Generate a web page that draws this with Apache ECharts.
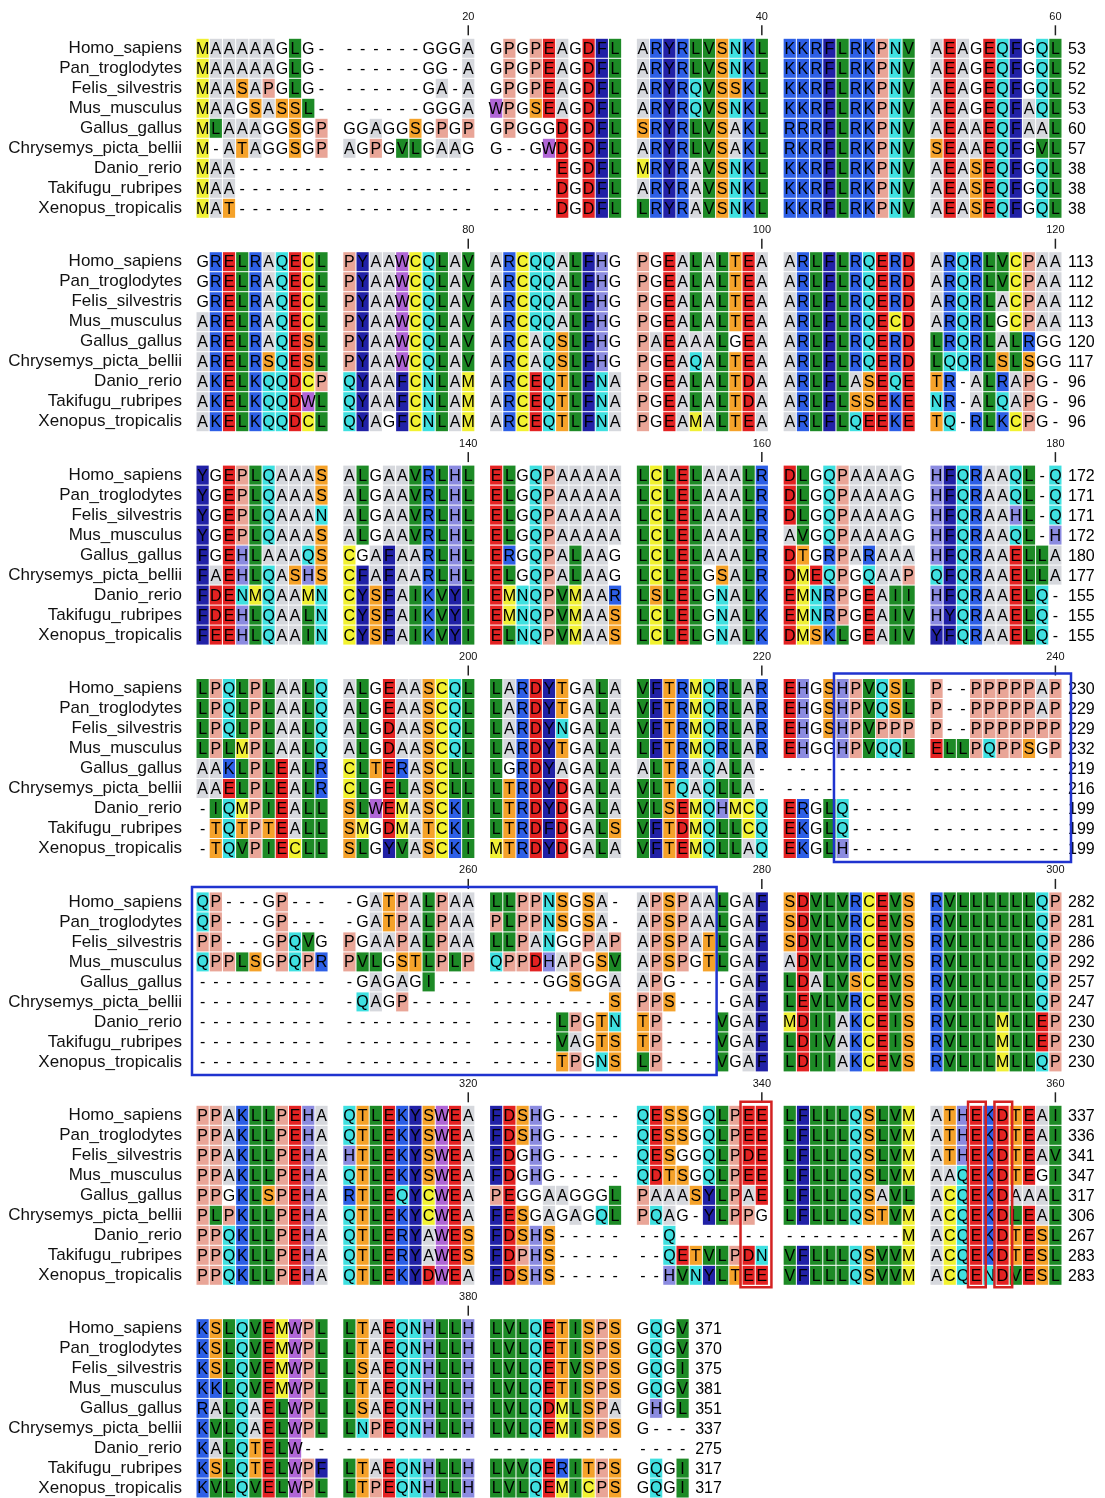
<!DOCTYPE html>
<html><head><meta charset="utf-8">
<script src="https://cdn.jsdelivr.net/npm/echarts@6.0.0/dist/echarts.min.js"></script>
<style>html,body{margin:0;padding:0;background:#fff}#chart{width:1105px;height:1498px}</style>
</head><body><div id="chart"></div>
<script>
// ---------------- data ----------------
const SPECIES = ["Homo_sapiens","Pan_troglodytes","Felis_silvestris","Mus_musculus","Gallus_gallus",
  "Chrysemys_picta_bellii","Danio_rerio","Takifugu_rubripes","Xenopus_tropicalis"];

const Homo_sapiens = [
  "MAAAAAGLG- ------GGGA GPGPEAGDFL ARYRLVSNKL KKRFLRKPNV AEAGEQFGQL",
  "GRELRAQECL PYAAWCQLAV ARCQQALFHG PGEALALTEA ARLFLRQERD ARQRLVCPAA",
  "YGEPLQAAAS ALGAAVRLHL ELGQPAAAAA LCLELAAALR DLGQPAAAAG HFQRAAQL-Q",
  "LPQLPLAALQ ALGEAASCQL LARDYTGALA VFTRMQRLAR EHGSHPVQSL P--PPPPPAP",
  "QP---GP--- -GATPALPAA LLPPNSGSA- APSPAALGAF SDVLVRCEVS RVLLLLLLQP",
  "PPAKLLPEHA QTLEKYSWEA FDSHG----- QESSGQLPEE LFLLLQSLVM ATHEKDTEAI",
  "KSLQVEMWPL LTAEQNHLLH LVLQETISPS GQGV"];
const Pan_troglodytes = [
  "MAAAAAGLG- ------GG-A GPGPEAGDFL ARYRLVSNKL KKRFLRKPNV AEAGEQFGQL",
  "GRELRAQECL PYAAWCQLAV ARCQQALFHG PGEALALTEA ARLFLRQERD ARQRLVCPAA",
  "YGEPLQAAAS ALGAAVRLHL ELGQPAAAAA LCLELAAALR DLGQPAAAAG HFQRAAQL-Q",
  "LPQLPLAALQ ALGEAASCQL LARDYTGALA VFTRMQRLAR EHGSHPVQSL P--PPPPPAP",
  "QP---GP--- -GATPALPAA PLPPNSGSA- APSPAALGAF SDVLVRCEVS RVLLLLLLQP",
  "PPAKLLPEHA QTLEKYSWEA FDSHG----- QESSGQLPEE LFLLLQSLVM ATHEKDTEAI",
  "KSLQVEMWPL LTAEQNHLLH LVLQETISPS GQGV"];
const Felis_silvestris = [
  "MAASAPGLG- ------GA-A GPGPEAGDFL ARYRQVSSKL KKRFLRKPNV AEAGEQFGQL",
  "GRELRAQECL PYAAWCQLAV ARCQQALFHG PGEALALTEA ARLFLRQERD ARQRLACPAA",
  "YGEPLQAAAN ALGAAVRLHL ELGQPAAAAA LCLELAAALR DLGQPAAAAG HFQRAAHL-Q",
  "LPQLPLAALQ ALGDAASCQL LARDYNGALA VFTRMQRLAR EHGSHPVPPP P--PPPPPPP",
  "PP---GPQVG PGAAPALPAA LLPANGGPAP APSPATLGAF SDVLVRCEVS RVLLLLLLQP",
  "PPAKLLPEHA HTLEKYSWEA FDGHG----- QESGGQLPDE LFLLLQSLVM ATHEKDTEAV",
  "KSLQVEMWPL LSAEQNHLLH LVLQETVSPS GQGI"];
const Mus_musculus = [
  "MAAGSASSL- ------GGGA WPGSEAGDFL ARYRQVSNKL KKRFLRKPNV AEAGEQFAQL",
  "ARELRAQECL PYAAWCQLAV ARCQQALFHG PGEALALTEA ARLFLRQECD ARQRLGCPAA",
  "YGEPLQAAAS ALGAAVRLHL ELGQPAAAAA LCLELAAALR AVGQPAAAAG HFQRAAQL-H",
  "LPLMPLAALQ ALGDAASCQL LARDYTGALA LFTRMQRLAR EHGGHPVQQL ELLPQPPSGP",
  "QPPLSGPQPR PVLGSTLPLP QPPDHAPGSV APSPGTLGAF ADVLVRCEVS RVLLLLLLQP",
  "PPAKLLPEHA QTLEKYSWEA FDGHG----- QDTSGQLPEE LFLLLQSLVM AAQEKDTEGI",
  "KKLQVEMWPL LTAEQNHLLH LVLQETISPS GQGV"];
const Gallus_gallus = [
  "MLAAAGGSGP GGAGGSGPGP GPGGGDGDFL SRYRLVSAKL RRRFLRKPNV AEAAEQFAAL",
  "ARELRAQESL PYAAWCQLAV ARCAQSLFHG PAEAAALGEA ARLFLRQERD LRQRLALRGG",
  "FGEHLAAAQS CGAFAARLHL ERGQPALAAG LCLELAAALR DTGRPARAAA HFQRAAELLA",
  "AAKLPLEALR CLTERASCLL LGRDYAGALA ALTRAQALA- ---------- ----------",
  "---------- -GAGAGI--- ----GGSGGA APG----GAF LDALVSCEVS RVLLLLLLQP",
  "PPGKLSPEHA RTLEQYCWEA PEGGAAGGGL PAAASYLPAE LFLLLQSAVL ACQEKDAAAL",
  "RALQAELWPL LSAEQNHLLH LVLQDMLSPA GHGL"];
const Chrysemys_picta_bellii = [
  "M-ATAGGSGP AGPGVLGAAG G--GWDGDFL ARYRLVSAKL RKRFLRKPNV SEAAEQFGVL",
  "ARELRSQESL PYAAWCQLAV ARCAQSLFHG PGEAQALTEA ARLFLRQERD LQQRLSLSGG",
  "FAEHLQASHS CFAFAARLHL ELGQPALAAG LCLELGSALR DMEQPGQAAP QFQRAAELLA",
  "AAELPLEALR CLGELASCLL LTRDYDGALA VLTQAQLLA- ---------- ----------",
  "---------- -QAGP----- ---------S PPS----GAF LEVLVRCEVS RVLLLLLLQP",
  "PLPKLLPEHA QTLEKYCWEA FESGAGAGQL PQAG-YLPPG LFLLLQSTVM ACQEKDLEAL",
  "KVLQAELWPL LNPEQNHLLH LVLQEMISPS G---"];
const Danio_rerio = [
  "MAA------- ---------- -----EGDFL MRYRAVSNKL KKRFLRKPNV AEASEQFGQL",
  "AKELKQQDCP QYAAFCNLAM ARCEQTLFNA PGEALALTDA ARLFLASEQE TR-ALRAPG-",
  "FDENMQAAMN CYSFAIKVYI EMNQPVMAAR LSLELGNALK EMNRPGEAII HFQRAAELQ-",
  "-IQMPIEALL SLWEMASCKI LTRDYDGALA VLSEMQHMCQ ERGLQ----- ----------",
  "---------- ---------- -----LPGTN TP----VGAF MDIIAKCEIS RVLLLMLLEP",
  "PPQKLLPEHA QTLERYAWES FDSHS----- --Q------- ---------M ACQEKDTESL",
  "KALQTELW-- ---------- ---------- ----"];
const Takifugu_rubripes = [
  "MAA------- ---------- -----DGDFL ARYRAVSNKL KKRFLRKPNV AEASEQFGQL",
  "AKELKQQDWL QYAAFCNLAM ARCEQTLFNA PGEALALTDA ARLFLSSEKE NR-ALQAPG-",
  "FDEHLQAALN CYSFAIKVYI EMNQPVMAAS LCLELGNALK EMNRPGEAIV HYQRAAELQ-",
  "-TQTPTEALL SMGDMATCKI LTRDFDGALS VFTDMQLLCQ EKGLQ----- ----------",
  "---------- ---------- -----VAGTS TP----VGAF LDIVAKCEIS RVLLLMLLEP",
  "PPQKLLPEHA QTLERYAWES FDPHS----- --QETVLPDN VFLLLQSVVM ACQEKDTESL",
  "KSLQTELWPF LTAEQNHLLH LVVQERITPS GQGI"];
const Xenopus_tropicalis = [
  "MAT------- ---------- -----DGDFL LRYRAVSNKL KKRFLRKPNV AEASEQFGQL",
  "AKELKQQDCL QYAGFCNLAM ARCEQTLFNA PGEAMALTEA ARLFLQEEKE TQ-RLKCPG-",
  "FEEHLQAAIN CYSFAIKVYI ELNQPVMAAS LCLELGNALK DMSKLGEAIV YFQRAAELQ-",
  "-TQVPIECLL SLGYVASCKI MTRDYDGALA VFTEMQLLAQ EKGLH----- ----------",
  "---------- ---------- -----TPGNS LP----VGAF LDIIAKCEVS RVLLLMLLQP",
  "PPQKLLPEHA QTLEKYDWEA FDSHS----- --HVNYLTEE VFLLLQSVVM ACQENDVESL",
  "KVLQVELWPL LTPEQNHLLH LVLQEMICPS GQGI"];

const SEQUENCES = [Homo_sapiens, Pan_troglodytes, Felis_silvestris, Mus_musculus, Gallus_gallus,
  Chrysemys_picta_bellii, Danio_rerio, Takifugu_rubripes, Xenopus_tropicalis];

const TICK_COLUMNS = [20,40,60,80,100,120,140,160,180,200,220,240,260,280,300,320,340,360,380];
const BLUE_BOXES = [[225,240],[241,276]];          // alignment column ranges
const RED_BOXES  = [[339,340],[354,354],[356,356]];

// ---------------- style ----------------
const RESIDUE_COLORS = {
  A:'#d6d8dd', R:'#2d5fe6', K:'#2d5fe6', N:'#3fe0e0', Q:'#3fe0e0', D:'#e32222', E:'#e32222',
  C:'#f2f230', M:'#f0f035', L:'#1d8a26', V:'#1d8a26', I:'#1d8a26', F:'#2121a6', Y:'#2121a6',
  H:'#8b8be0', W:'#b066d6', P:'#e9a597', S:'#f5a22a', T:'#f5a22a'
};
const BLUE_PADS = [[2,9,5,3.5],[4,1,5,3]];   // left,right,top,bottom px
const RED_PAD = [1.5,3,3.5,2];
const FONT = '"Liberation Sans", Arial, sans-serif';

const COLS_PER_BLOCK = 60, GROUP = 10, GAP = 1.1136;
const X_MAX = COLS_PER_BLOCK + (COLS_PER_BLOCK / GROUP - 1) * GAP;
const NBLOCK = SEQUENCES[0].length;
const FIRST_ROW_Y = 48.3, BLOCK_PITCH = 213.4, ROW_H = 20;
const colX = c => c + Math.floor(c / GROUP) * GAP + 0.5;   // 0-based column in block -> axis value

const grids = [], xAxes = [], yAxes = [], series = [];
const running = SPECIES.map(() => 0);

for (let k = 0; k < NBLOCK; k++) {
  grids.push({left: 196, width: 866, top: FIRST_ROW_Y - ROW_H / 2 + k * BLOCK_PITCH, height: ROW_H * SPECIES.length});
  xAxes.push({type:'value', gridIndex:k, min:0, max:X_MAX, show:false});
  yAxes.push({type:'category', gridIndex:k, data:SPECIES, inverse:true,
    axisLine:{show:false}, axisTick:{show:false}, splitLine:{show:false},
    axisLabel:{interval:0, margin:14, color:'#111', fontSize:17, fontFamily:FONT}});

  const cells = [], chars = [], ends = [], endLabels = [];
  SEQUENCES.forEach((seqs, r) => {
    const line = seqs[k].replace(/ /g, '');
    for (let c = 0; c < line.length; c++) { cells.push([colX(c), r]); chars.push(line[c]); }
    running[r] += line.replace(/-/g, '').length;
    ends.push([colX(line.length - 1) + 0.5, r]);
    endLabels.push(String(running[r]));
  });

  series.push({
    type:'custom', xAxisIndex:k, yAxisIndex:k, data:cells, silent:true, animation:false,
    renderItem:(params, api) => {
      const p = api.coord([api.value(0), api.value(1)]);
      const s = api.size([1, 1]);
      const ch = chars[params.dataIndex];
      const fill = RESIDUE_COLORS[ch];
      const children = [];
      if (fill) children.push({type:'rect', shape:{x:p[0] - s[0] / 2 + 0.5, y:p[1] - 9.5, width:s[0] - 1, height:19}, style:{fill}});
      children.push({type:'text', style:{x:p[0], y:p[1] + 1, text:ch, align:'center', verticalAlign:'middle',
        fill:'#000', font:'16px ' + FONT}});
      return {type:'group', children};
    }
  });

  series.push({
    type:'custom', xAxisIndex:k, yAxisIndex:k, data:ends, silent:true, animation:false,
    renderItem:(params, api) => {
      const p = api.coord([api.value(0), api.value(1)]);
      return {type:'text', style:{x:p[0] + 6, y:p[1] + 1, text:endLabels[params.dataIndex], align:'left',
        verticalAlign:'middle', fill:'#000', font:'16px ' + FONT}};
    }
  });

  const start = k * COLS_PER_BLOCK;
  const ticks = TICK_COLUMNS.filter(t => t > start && t <= start + COLS_PER_BLOCK);
  series.push({
    type:'custom', xAxisIndex:k, yAxisIndex:k, data:ticks.map(t => [colX(t - 1 - start), 0]), silent:true, animation:false,
    renderItem:(params, api) => {
      const p = api.coord([api.value(0), api.value(1)]);
      return {type:'group', children:[
        {type:'text', style:{x:p[0], y:p[1] - 31.5, text:String(ticks[params.dataIndex]), align:'center',
          verticalAlign:'middle', fill:'#111', font:'11px ' + FONT}},
        {type:'line', shape:{x1:p[0], y1:p[1] - 23, x2:p[0], y2:p[1] - 13}, style:{stroke:'#222', lineWidth:1.5}}
      ]};
    }
  });

  const boxes = [];
  BLUE_BOXES.forEach((b, i) => { if (b[0] > start && b[0] <= start + COLS_PER_BLOCK) boxes.push({b, color:'#1f33cf', pad:BLUE_PADS[i], w:2.5}); });
  RED_BOXES.forEach(b => { if (b[0] > start && b[0] <= start + COLS_PER_BLOCK) boxes.push({b, color:'#d42222', pad:RED_PAD, w:2.5}); });
  if (boxes.length) {
    series.push({
      type:'custom', xAxisIndex:k, yAxisIndex:k, silent:true, animation:false, z:5,
      data:boxes.map(o => [colX(o.b[0] - 1 - start) - 0.5, colX(o.b[1] - 1 - start) + 0.5, 0, SPECIES.length - 1]),
      encode:{x:[0,1], y:[2,3]},
      renderItem:(params, api) => {
        const o = boxes[params.dataIndex];
        const p0 = api.coord([api.value(0), api.value(2)]);
        const p1 = api.coord([api.value(1), api.value(3)]);
        const half = api.size([1, 1])[1] / 2;
        return {type:'rect', shape:{x:p0[0] - o.pad[0], y:p0[1] - half - o.pad[2],
          width:p1[0] - p0[0] + o.pad[0] + o.pad[1], height:p1[1] - p0[1] + 2 * half + o.pad[2] + o.pad[3]},
          style:{fill:null, stroke:o.color, lineWidth:o.w}};
      }
    });
  }
}

const chart = echarts.init(document.getElementById('chart'), null, {renderer:'canvas'});
chart.setOption({backgroundColor:'#fff', animation:false, grid:grids, xAxis:xAxes, yAxis:yAxes, series});
</script></body></html>
